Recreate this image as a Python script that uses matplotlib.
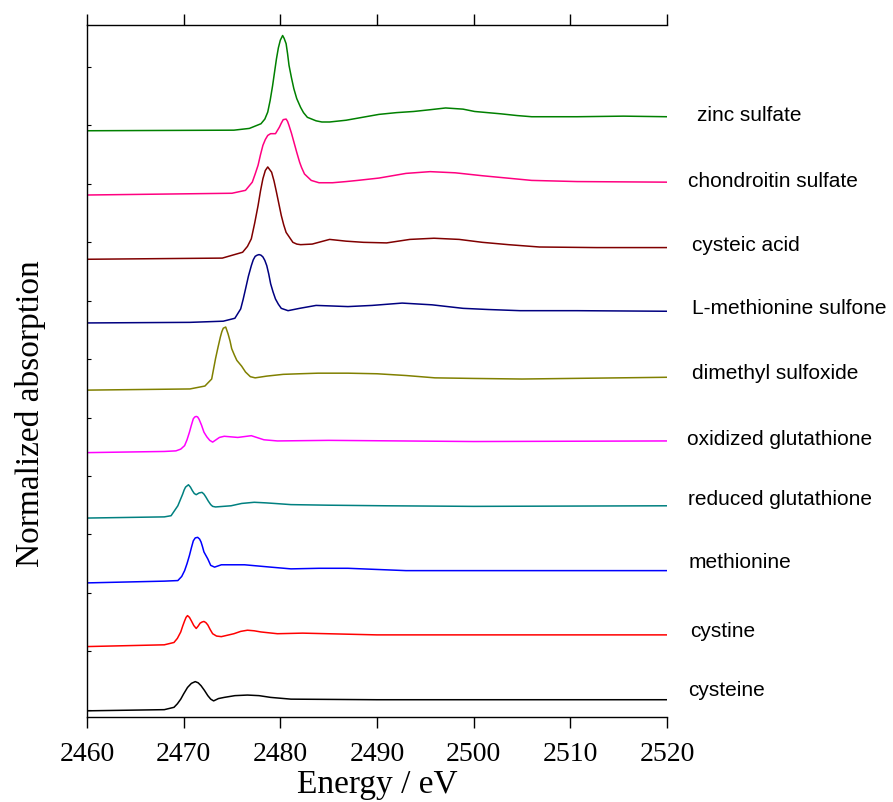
import matplotlib
matplotlib.use("Agg")
import matplotlib.pyplot as plt

# sulfur K-edge XANES, normalized absorption (relative to each baseline)
names = ["cysteine", "cystine", "methionine", "reduced glutathione",
         "oxidized glutathione", "dimethyl sulfoxide", "L-methionine sulfone",
         "cysteic acid", "chondroitin sulfate", "zinc sulfate"]
colors = ["black", "#ff0000", "#0000ff", "#008080", "#ff00ff",
          "#808000", "#000080", "#800000", "#ff0080", "#008000"]
offsets = [-0.02, 1.08, 2.17, 3.28, 4.40, 5.47, 6.62, 7.71, 8.81, 9.91]

e_cysteine = [2460, 2468, 2469.0, 2469.35, 2469.7, 2470.0, 2470.4, 2470.8, 2471.2, 2471.5,
              2471.8, 2472.15, 2472.5, 2472.8, 2473.1, 2473.6, 2474.2, 2475.3, 2476.6, 2477.8,
              2479.0, 2481.1, 2490, 2520]
a_cysteine = [0.00, 0.02, 0.06, 0.12, 0.20, 0.29, 0.40, 0.47, 0.50, 0.48,
              0.43, 0.35, 0.26, 0.20, 0.17, 0.21, 0.23, 0.26, 0.27, 0.26,
              0.23, 0.20, 0.19, 0.19]

e_cystine = [2460, 2468, 2469.0, 2469.35, 2469.7, 2469.9, 2470.1, 2470.25, 2470.4, 2470.6,
             2470.8, 2471.05, 2471.3, 2471.5, 2471.7, 2471.9, 2472.1, 2472.3, 2472.5, 2472.75,
             2473.0, 2473.4, 2473.9, 2475.2, 2475.9, 2476.6, 2477.3, 2478.0, 2479.7, 2482.3,
             2490, 2505, 2520]
a_cystine = [0.00, 0.03, 0.07, 0.14, 0.25, 0.35, 0.44, 0.50, 0.53, 0.50,
             0.44, 0.36, 0.31, 0.35, 0.40, 0.42, 0.43, 0.41, 0.37, 0.29,
             0.22, 0.18, 0.17, 0.22, 0.26, 0.28, 0.27, 0.25, 0.22, 0.23,
             0.20, 0.20, 0.20]

e_methionine = [2460, 2468, 2469.4, 2469.8, 2470.1, 2470.35, 2470.6, 2470.8, 2471.0, 2471.2,
                2471.45, 2471.65, 2471.8, 2471.95, 2472.1, 2472.5, 2472.8, 2473.2, 2473.9, 2476.3,
                2479.0, 2481.1, 2484, 2487, 2493, 2520]
a_methionine = [0.00, 0.03, 0.04, 0.11, 0.21, 0.33, 0.47, 0.60, 0.72, 0.77,
                0.78, 0.75, 0.70, 0.62, 0.53, 0.41, 0.30, 0.27, 0.31, 0.31,
                0.27, 0.24, 0.25, 0.25, 0.21, 0.21]

e_gsh = [2460, 2468, 2468.7, 2469.4, 2469.65, 2469.9, 2470.05, 2470.2, 2470.5, 2470.7,
         2470.9, 2471.1, 2471.3, 2471.6, 2471.9, 2472.1, 2472.3, 2472.55, 2472.8, 2473.0,
         2473.3, 2474.9, 2476.0, 2477.3, 2478.5, 2479.4, 2481.1, 2485, 2491, 2500, 2520]
a_gsh = [0.00, 0.02, 0.04, 0.21, 0.31, 0.41, 0.48, 0.53, 0.57, 0.53,
         0.47, 0.42, 0.40, 0.43, 0.44, 0.41, 0.36, 0.29, 0.23, 0.20,
         0.19, 0.21, 0.25, 0.27, 0.26, 0.25, 0.23, 0.22, 0.21, 0.20, 0.21]

e_gssg = [2460, 2468, 2469.2, 2469.7, 2470.1, 2470.35, 2470.6, 2470.8, 2471.0, 2471.15,
          2471.3, 2471.45, 2471.6, 2471.85, 2472.1, 2472.4, 2472.7, 2473.0, 2473.35, 2473.7,
          2474.2, 2475.6, 2477.0, 2478.3, 2479.7, 2485, 2500, 2520]
a_gssg = [0.00, 0.02, 0.03, 0.06, 0.12, 0.22, 0.35, 0.47, 0.58, 0.61,
          0.62, 0.61, 0.57, 0.47, 0.35, 0.27, 0.21, 0.18, 0.22, 0.26,
          0.28, 0.26, 0.29, 0.22, 0.20, 0.21, 0.19, 0.20]

e_dmso = [2460, 2470.65, 2472.2, 2472.9, 2473.3, 2473.55, 2473.8, 2473.95, 2474.1, 2474.35,
          2474.6, 2474.8, 2474.97, 2475.25, 2475.5, 2476.0, 2476.4, 2476.9, 2477.4, 2478.6,
          2480.3, 2482.0, 2483.9, 2487, 2490, 2493, 2496, 2500, 2505, 2510,
          2515, 2520]
a_dmso = [0.00, 0.02, 0.07, 0.19, 0.54, 0.73, 0.91, 1.00, 1.06, 1.08,
          0.96, 0.84, 0.71, 0.60, 0.51, 0.41, 0.31, 0.23, 0.21, 0.24,
          0.27, 0.28, 0.29, 0.29, 0.28, 0.25, 0.21, 0.20, 0.19, 0.20,
          0.21, 0.22]

e_sulfone = [2460, 2470.65, 2474.1, 2475.3, 2475.9, 2476.15, 2476.4, 2476.7, 2477.0, 2477.2,
             2477.4, 2477.6, 2477.8, 2478.0, 2478.2, 2478.4, 2478.6, 2478.8, 2479.0, 2479.25,
             2479.5, 2479.8, 2480.1, 2480.8, 2482.0, 2483.7, 2485.4, 2487, 2489.5, 2492.6,
             2495.7, 2498.9, 2501.5, 2504.8, 2510.7, 2520]
a_sulfone = [0.00, 0.01, 0.03, 0.08, 0.24, 0.40, 0.58, 0.80, 0.98, 1.08,
             1.14, 1.16, 1.17, 1.16, 1.13, 1.07, 0.98, 0.84, 0.67, 0.53,
             0.41, 0.32, 0.25, 0.21, 0.25, 0.30, 0.29, 0.28, 0.30, 0.34,
             0.31, 0.25, 0.23, 0.21, 0.21, 0.20]

e_cysteic = [2460, 2474, 2476.1, 2476.6, 2477.0, 2477.35, 2477.7, 2477.95, 2478.2, 2478.45,
             2478.7, 2479.1, 2479.35, 2479.6, 2479.85, 2480.1, 2480.35, 2480.6, 2481.3, 2481.7,
             2482.1, 2483.3, 2485.1, 2486.8, 2488.6, 2491.0, 2493.4, 2495.9, 2498.5, 2500.9,
             2503.6, 2506.8, 2512.7, 2520]
a_cysteic = [0.00, 0.02, 0.12, 0.22, 0.35, 0.62, 0.92, 1.17, 1.38, 1.52,
             1.58, 1.49, 1.34, 1.15, 0.95, 0.75, 0.59, 0.46, 0.29, 0.26,
             0.25, 0.26, 0.34, 0.31, 0.29, 0.28, 0.34, 0.36, 0.34, 0.29,
             0.25, 0.21, 0.20, 0.20]

e_chondroitin = [2460, 2475, 2476.4, 2477.1, 2477.4, 2477.7, 2477.95, 2478.2, 2478.45, 2478.7,
                 2479.0, 2479.5, 2479.9, 2480.1, 2480.3, 2480.6, 2480.75, 2480.9, 2481.15, 2481.4,
                 2481.7, 2482.0, 2482.2, 2482.5, 2483.2, 2484.0, 2485.4, 2486.8, 2488, 2490.2,
                 2493.0, 2495.5, 2498.1, 2500.9, 2506, 2510.7, 2520]
a_chondroitin = [0.00, 0.03, 0.08, 0.22, 0.36, 0.51, 0.69, 0.85, 0.95, 1.02,
                 1.05, 1.05, 1.16, 1.23, 1.29, 1.30, 1.26, 1.19, 1.06, 0.91,
                 0.73, 0.56, 0.47, 0.36, 0.25, 0.21, 0.21, 0.23, 0.25, 0.29,
                 0.37, 0.40, 0.38, 0.33, 0.25, 0.23, 0.22]

e_znso4 = [2460, 2475.2, 2476.8, 2478.0, 2478.4, 2478.7, 2478.95, 2479.2, 2479.4, 2479.6,
           2479.8, 2480.0, 2480.24, 2480.4, 2480.6, 2480.75, 2480.9, 2481.15, 2481.4, 2481.7,
           2482.1, 2482.4, 2482.8, 2483.7, 2484.3, 2485.1, 2486.8, 2488.5, 2490.2, 2492,
           2493.8, 2495.5, 2497.1, 2498.9, 2500.1, 2502.8, 2504.5, 2506, 2508, 2510.7,
           2515.5, 2520]
a_znso4 = [0.00, 0.01, 0.04, 0.12, 0.20, 0.32, 0.52, 0.77, 1.00, 1.23,
           1.42, 1.55, 1.63, 1.58, 1.49, 1.32, 1.12, 0.91, 0.72, 0.55,
           0.40, 0.31, 0.23, 0.17, 0.15, 0.15, 0.18, 0.23, 0.28, 0.31,
           0.33, 0.36, 0.39, 0.37, 0.33, 0.29, 0.26, 0.24, 0.24, 0.24,
           0.25, 0.24]

energies = [e_cysteine, e_cystine, e_methionine, e_gsh, e_gssg,
            e_dmso, e_sulfone, e_cysteic, e_chondroitin, e_znso4]
spectra = [a_cysteine, a_cystine, a_methionine, a_gsh, a_gssg,
           a_dmso, a_sulfone, a_cysteic, a_chondroitin, a_znso4]

# label placement (data coords), taken from the reference layout
label_x = [2522.2, 2522.4, 2522.2, 2522.2, 2522.1, 2522.6, 2522.6, 2522.6, 2522.2, 2523.1]
label_y = [0.35, 1.36, 2.53, 3.61, 4.64, 5.77, 6.89, 7.97, 9.05, 10.18]

serif = "Liberation Serif"
sans = "Liberation Sans"

fig = plt.figure(figsize=(8.93, 8.03), dpi=100)
ax = fig.add_axes([0.0974, 0.1059, 0.6495, 0.8617])

for e, a, off, c in zip(energies, spectra, offsets, colors):
    ax.plot(e, [v + off for v in a], color=c, lw=1.1)

for name, x, y in zip(names, label_x, label_y):
    ax.text(x, y, name, fontsize=15, family=sans, va="center", ha="left", clip_on=False)

ax.set_xlim(2460, 2520)
ax.set_ylim(-0.125, 11.72)
ax.set_xticks(range(2460, 2521, 10))
ax.set_yticks(range(0, 12))
ax.set_yticklabels([])
ax.spines["right"].set_visible(False)
for s in ["left", "bottom", "top"]:
    ax.spines[s].set_linewidth(1.0)

ax.tick_params(axis="x", which="both", direction="out", length=8, width=1.0,
               top=True, labeltop=False, labelsize=20, pad=9)
ax.tick_params(axis="y", direction="in", length=3, width=0.8, right=False)
for lab in ax.get_xticklabels():
    lab.set_family(serif)

ax.set_xlabel("Energy / eV", fontsize=24, family=serif, labelpad=2)
ax.set_ylabel("Normalized absorption", fontsize=24, family=serif)
ax.yaxis.set_label_coords(-0.07, 0.44)

fig.savefig("out.png", dpi=100)
